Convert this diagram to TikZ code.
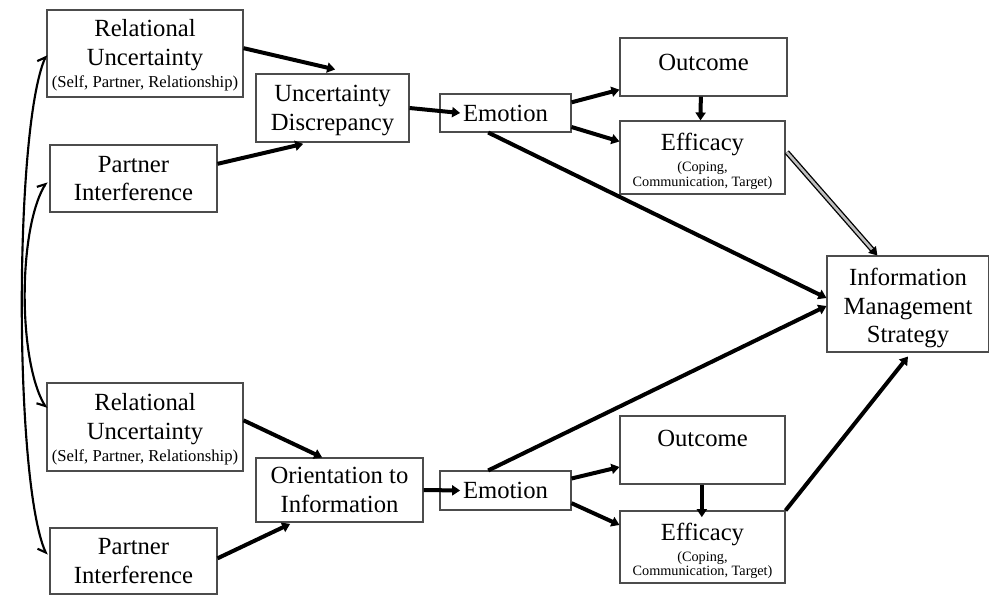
\documentclass[tikz,border=0pt]{standalone}
\usepackage{fontspec}
\setmainfont{Liberation Serif}
\usetikzlibrary{arrows.meta,calc}
\newcommand{\bigf}{\fontsize{18.5}{21.5}\selectfont}
\newcommand{\smallf}{\fontsize{12.5}{14}\selectfont}
\newcommand{\tinyf}{\fontsize{10.7}{12.5}\selectfont}
\newcommand{\dn}[2]{\raisebox{-#1}[\height][\depth]{#2}}
\begin{document}
\begin{tikzpicture}[x=0.75pt,y=-0.75pt,
  box/.style={draw=black!70,line width=0.8pt,fill=white,align=center,inner sep=1pt,font=\bigf},
  arr/.style={line width=3pt,-{Triangle[length=6pt,width=7.5pt]}},
  curv/.style={line width=1.6pt,{Straight Barb[harpoon,length=5pt,width=9pt]}-{Straight Barb[harpoon,swap,length=5pt,width=9pt]}}]
\useasboundingbox (0,0) rectangle (989,599);
% boxes
\node[box,minimum width=147pt,minimum height=65.25pt] (ru1) at (145,53.5) {\dn{1.5pt}{Relational}\\\dn{1.5pt}{Uncertainty}\\[-5pt]{\smallf\dn{1.5pt}{(Self, Partner, Relationship)}}};
\node[box,minimum width=125.25pt,minimum height=50.25pt] (pi1) at (133.5,178.5) {Partner\\Interference};
\node[box,minimum width=114.75pt,minimum height=51pt] (ud) at (332.5,108) {\dn{2pt}{Uncertainty}\\\dn{2pt}{Discrepancy}};
\node[box,minimum width=98.25pt,minimum height=28.5pt] (emo1) at (505.5,113) {Emotion};
\node[box,minimum width=125.25pt,minimum height=43.5pt] (out1) at (703.5,67) {\raisebox{3.5pt}[\height][\depth]{Outcome}};
\node[box,minimum width=123.75pt,minimum height=54.75pt] (eff1) at (702.5,157.5) {\dn{3pt}{Efficacy}\\[-6pt]{\tinyf\dn{3pt}{(Coping,}}\\[-10.5pt]{\tinyf\dn{3pt}{Communication, Target)}}};
\node[box,minimum width=121.5pt,minimum height=72pt] (ims) at (908,304) {\dn{3pt}{Information}\\\dn{3pt}{Management}\\\dn{3pt}{Strategy}};
\node[box,minimum width=147pt,minimum height=66pt] (ru2) at (145,427) {\dn{1.5pt}{Relational}\\\dn{1.5pt}{Uncertainty}\\[-5pt]{\smallf\dn{1.5pt}{(Self, Partner, Relationship)}}};
\node[box,minimum width=125.25pt,minimum height=49.5pt] (pi2) at (133.5,561) {Partner\\Interference};
\node[box,minimum width=125.25pt,minimum height=48pt] (oi) at (339.5,490) {Orientation to\\Information};
\node[box,minimum width=98.25pt,minimum height=29.25pt] (emo2) at (505.5,490.5) {Emotion};
\node[box,minimum width=123.75pt,minimum height=51pt] (out2) at (702.5,450) {\raisebox{9pt}[\height][\depth]{Outcome}};
\node[box,minimum width=123.75pt,minimum height=54pt] (eff2) at (702.5,547) {\dn{3pt}{Efficacy}\\[-6pt]{\tinyf\dn{3pt}{(Coping,}}\\[-10.5pt]{\tinyf\dn{3pt}{Communication, Target)}}};
% top arrows
\draw[arr] ([yshift=4pt]ru1.east) -- ([xshift=2pt,yshift=3pt]ud.north);
\draw[arr] ([yshift=11pt]pi1.east) -- ([xshift=-22pt,yshift=-1pt]ud.south);
\draw[arr] (ud.east) -- ([xshift=15.5pt]emo1.west);
\draw[arr] ([yshift=8pt]emo1.east) -- ([yshift=-17pt]out1.west);
\draw[arr] ([yshift=-10.5pt]emo1.east) -- ([yshift=12pt]eff1.west);
\draw[arr] ([xshift=-2pt]out1.south) -- ([xshift=-1.5pt]eff1.north);
\draw[line width=1pt,double=black!25,double distance=2pt,-{Triangle[length=6pt,width=7.5pt]}] ([xshift=1pt,yshift=4pt]eff1.east) -- ([xshift=-23pt]ims.north);
\draw[arr] ([xshift=-13pt]emo1.south) -- ([yshift=4.5pt]ims.west);
% bottom arrows
\draw[arr] ([yshift=5pt]ru2.east) -- ([xshift=-13pt]oi.north);
\draw[arr] ([yshift=2pt]pi2.east) -- ([xshift=-37pt,yshift=-1pt]oi.south);
\draw[arr] (oi.east) -- ([xshift=15.5pt]emo2.west);
\draw[arr] ([yshift=9pt]emo2.east) -- ([yshift=-12.75pt]out2.west);
\draw[arr] ([yshift=-9.5pt]emo2.east) -- ([yshift=16.5pt]eff2.west);
\draw[arr] ([xshift=-0.5pt]out2.south) -- ([xshift=-0.5pt,yshift=-5pt]eff2.north);
\draw[arr] ([xshift=-13pt]emo2.north) -- ([yshift=-1.5pt]ims.west);
\draw[arr] (eff2.north east) -- ([yshift=-3pt]ims.south);
% left curves
\draw[curv] ([yshift=-1pt]ru1.west) .. controls (14,130) and (14,480) .. ([xshift=-2pt,yshift=4.5pt]pi2.west);
\draw[curv] ([xshift=-2pt,yshift=-2.5pt]pi1.west) .. controls (18,230) and (18,360) .. ([yshift=14pt]ru2.west);
\end{tikzpicture}
\end{document}
